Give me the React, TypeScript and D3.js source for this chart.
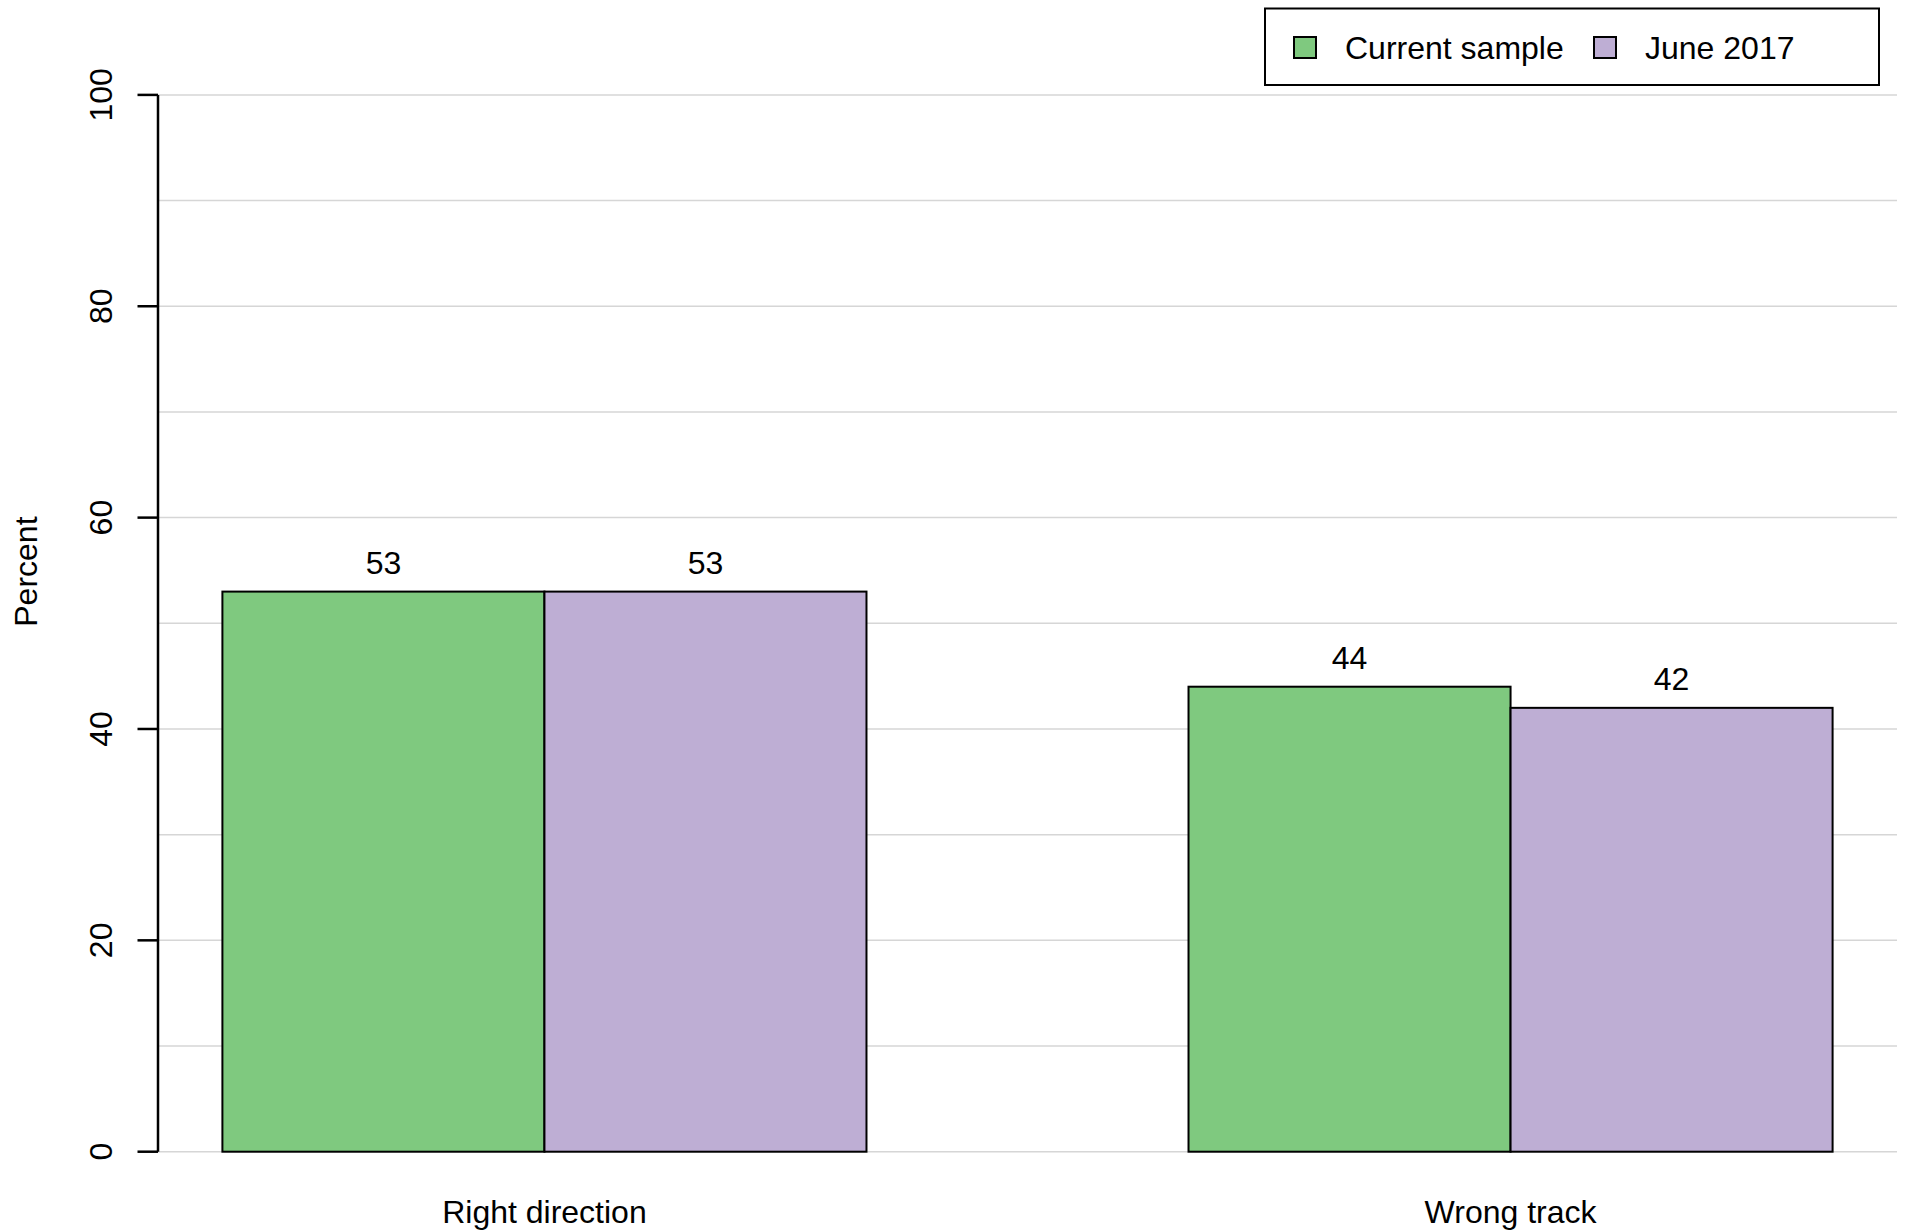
import React from "react";
import * as d3 from "d3";

const categories = ["Right direction", "Wrong track"];
const seriesNames = ["Current sample", "June 2017"];
const currentSample = [53, 44];
const june2017 = [53, 42];
const seriesValues = [currentSample, june2017];
const colors = ["#7FC97F", "#BEAED4"];
const yTicks = [0, 20, 40, 60, 80, 100];
const gridTicks = [0, 10, 20, 30, 40, 50, 60, 70, 80, 90, 100];

const W = 1907;
const H = 1232;
const FS = 32;
const FONT = "Liberation Sans, Arial, Helvetica, sans-serif";

export default function App() {
  const x = d3.scaleLinear().domain([-0.2, 5.2]).range([158, 1897]);
  const y = d3.scaleLinear().domain([0, 100]).range([1151.7, 94.9]);

  const bars: { x0: number; x1: number; v: number; c: string }[] = [];
  categories.forEach((_, g) => {
    seriesValues.forEach((vals, s) => {
      const start = g * 3 + s;
      bars.push({ x0: x(start), x1: x(start + 1), v: vals[g], c: colors[s] });
    });
  });

  return (
    <svg
      width={W}
      height={H}
      style={{ position: "absolute", left: 0, top: 0, background: "#fff" }}
      fontFamily={FONT}
    >
      <rect x={0} y={0} width={W} height={H} fill="#fff" />
      {gridTicks.map((t) => (
        <line key={t} x1={x(-0.2)} x2={x(5.2)} y1={y(t)} y2={y(t)} stroke="#d6d6d6" strokeWidth={1.5} />
      ))}
      {bars.map((b, i) => (
        <g key={i}>
          <rect x={b.x0} y={y(b.v)} width={b.x1 - b.x0} height={y(0) - y(b.v)} fill={b.c} stroke="#000" strokeWidth={2} />
          <text x={(b.x0 + b.x1) / 2} y={y(b.v) - 18} textAnchor="middle" fontSize={FS} fill="#000">
            {b.v}
          </text>
        </g>
      ))}
      <line x1={158} x2={158} y1={y(0)} y2={y(100)} stroke="#000" strokeWidth={2.5} />
      {yTicks.map((t) => (
        <g key={t}>
          <line x1={137.5} x2={158} y1={y(t)} y2={y(t)} stroke="#000" strokeWidth={2.5} />
          <text transform={`translate(112,${y(t)}) rotate(-90)`} textAnchor="middle" fontSize={FS} fill="#000">
            {t}
          </text>
        </g>
      ))}
      <text transform={`translate(36.5,571.6) rotate(-90)`} textAnchor="middle" fontSize={FS} fill="#000">
        Percent
      </text>
      {categories.map((c, g) => (
        <text key={c} x={x(g * 3 + 1)} y={1223} textAnchor="middle" fontSize={FS} fill="#000">
          {c}
        </text>
      ))}
      <rect x={1265} y={8.5} width={614} height={76.5} fill="#fff" stroke="#000" strokeWidth={2} />
      {seriesNames.map((n, i) => {
        const sx = i === 0 ? 1294 : 1594;
        return (
          <g key={n}>
            <rect x={sx} y={37} width={22} height={21} fill={colors[i]} stroke="#000" strokeWidth={2} />
            <text x={sx + 51} y={59} fontSize={FS} fill="#000">
              {n}
            </text>
          </g>
        );
      })}
    </svg>
  );
}
